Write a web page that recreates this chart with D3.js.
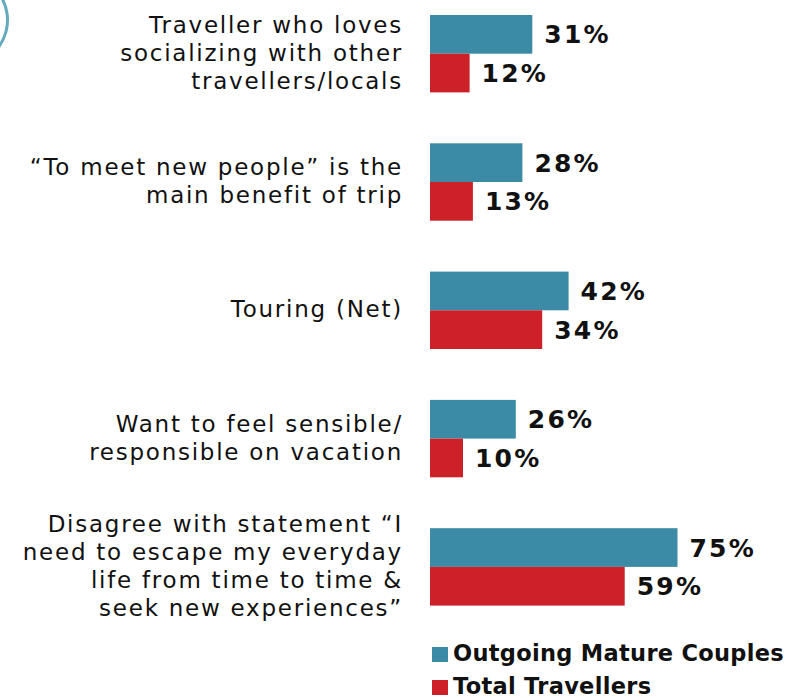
<!DOCTYPE html>
<html>
<head>
<meta charset="utf-8">
<script src="https://cdn.jsdelivr.net/npm/d3@7/dist/d3.min.js"></script>
<style>
  html, body { margin: 0; padding: 0; background: #ffffff; }
  svg { display: block; }
  text { font-family: "DejaVu Sans", Verdana, sans-serif; fill: #111; }
</style>
</head>
<body>
<svg id="chart" width="788" height="698"></svg>
<script>
// Category labels, each split into its display lines
const categories = [
  ["Traveller who loves", "socializing with other", "travellers/locals"],
  ["\u201CTo meet new people\u201D is the", "main benefit of trip"],
  ["Touring (Net)"],
  ["Want to feel sensible/", "responsible on vacation"],
  ["Disagree with statement \u201CI", "need to escape my everyday", "life from time to time &", "seek new experiences\u201D"]
];
const outgoingMatureCouples = [31, 28, 42, 26, 75];
const totalTravellers = [12, 13, 34, 10, 59];
const seriesNames = ["Outgoing Mature Couples", "Total Travellers"];
const seriesColors = ["#3b8aa6", "#cc2128"];

const svg = d3.select("#chart");

// decorative ring peeking in at the top-left corner
svg.append("path")
  .attr("d", d3.arc()({ innerRadius: 44, outerRadius: 47, startAngle: Math.PI * 0.22, endAngle: Math.PI * 0.7 }))
  .attr("transform", "translate(-38,20)")
  .attr("fill", "#4a9bb0")
  .attr("opacity", 0.85);

const x0 = 430;
const x = d3.scaleLinear().domain([0, 100]).range([0, 330]);

const groupStep = 128.3;
const barH = 38.7;
// two bars per category, stacked directly on top of each other
const y = d3.scaleBand().domain([0, 1]).range([0, barH * 2]);

const groups = svg.append("g").selectAll("g")
  .data(categories.map((c, i) => ({ lines: c, values: [outgoingMatureCouples[i], totalTravellers[i]], i })))
  .join("g")
  .attr("transform", d => `translate(0,${15 + d.i * groupStep})`);

groups.each(function (d) {
  const g = d3.select(this);
  d.values.forEach((v, k) => {
    g.append("rect")
      .attr("x", x0)
      .attr("y", y(k))
      .attr("width", x(v))
      .attr("height", y.bandwidth())
      .attr("fill", seriesColors[k]);
    g.append("text")
      .attr("x", x0 + x(v) + 12)
      .attr("y", y(k) + y.bandwidth() / 2 + 9)
      .attr("font-size", 25)
      .attr("font-weight", "bold")
      .attr("letter-spacing", 2.2)
      .text(v + "%");
  });
  const center = barH;
  const n = d.lines.length;
  g.append("text")
    .attr("text-anchor", "end")
    .attr("font-size", 23)
    .attr("letter-spacing", 1.75)
    .selectAll("tspan")
    .data(d.lines)
    .join("tspan")
    .attr("x", 403)
    .attr("y", (l, j) => center + (j - (n - 1) / 2) * 28 + 7)
    .text(l => l);
});

// legend
const legend = svg.append("g").selectAll("g")
  .data(seriesNames)
  .join("g")
  .attr("transform", (d, i) => `translate(432,${647 + i * 33})`);
legend.append("rect")
  .attr("width", 16).attr("height", 15)
  .attr("fill", (d, i) => seriesColors[i]);
legend.append("text")
  .attr("x", 21).attr("y", 14)
  .attr("font-size", 22.5)
  .attr("font-weight", "bold")
  .attr("letter-spacing", 0.3)
  .text(d => d);
</script>
</body>
</html>
